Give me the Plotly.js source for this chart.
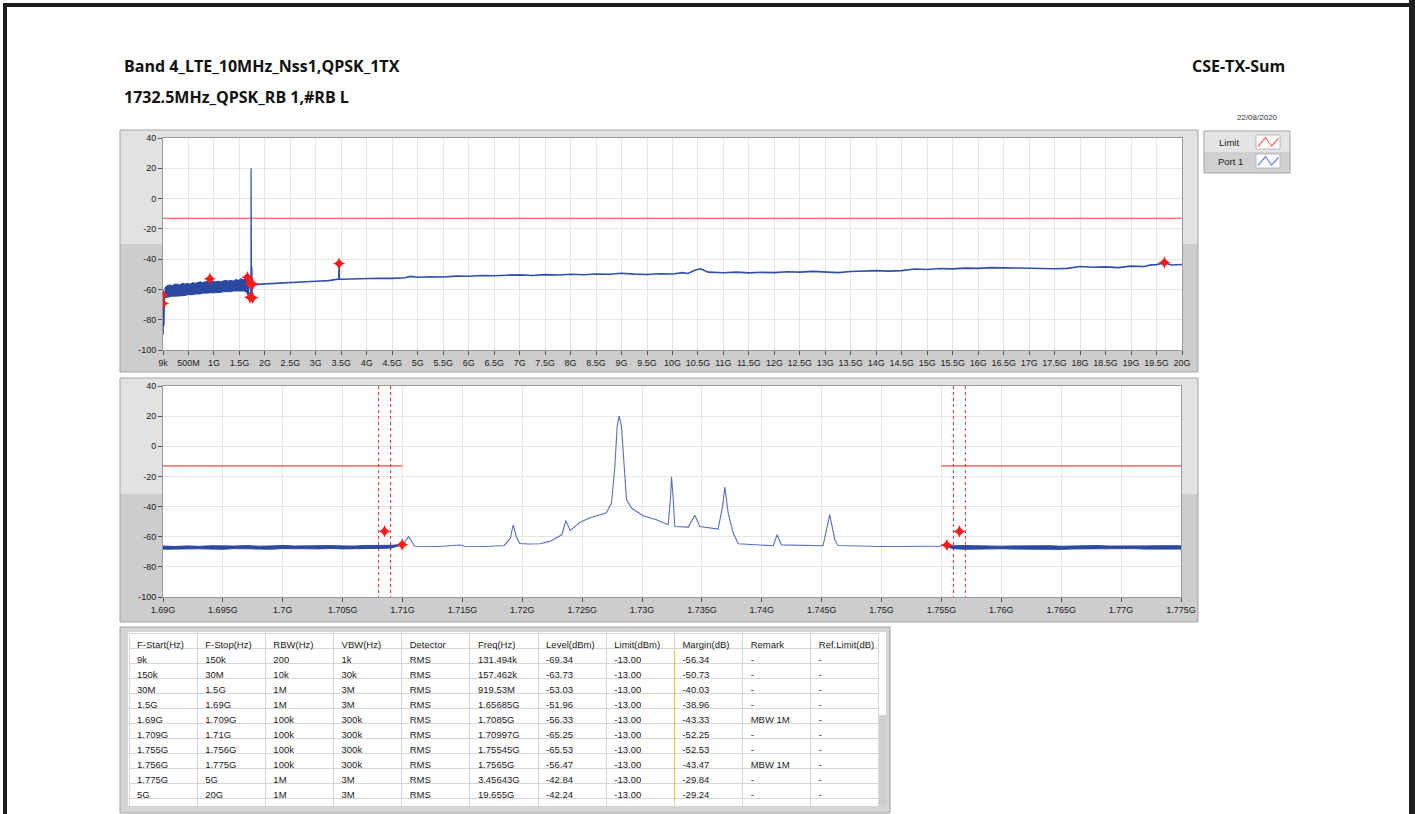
<!DOCTYPE html>
<html>
<head>
<meta charset="utf-8">
<script src="https://cdn.plot.ly/plotly-3.0.1.min.js"></script>
<style>html,body{margin:0;padding:0;background:#fff;}#chart{width:1415px;height:814px;}</style>
</head>
<body>
<div id="chart"></div>
<script>
// ---------------- DATA ----------------
// Result table
const tableHeader = ['F-Start(Hz)','F-Stop(Hz)','RBW(Hz)','VBW(Hz)','Detector','Freq(Hz)','Level(dBm)','Limit(dBm)','Margin(dB)','Remark','Ref.Limit(dB)'];
const fStart   = ['9k','150k','30M','1.5G','1.69G','1.709G','1.755G','1.756G','1.775G','5G'];
const fStop    = ['150k','30M','1.5G','1.69G','1.709G','1.71G','1.756G','1.775G','5G','20G'];
const rbw      = ['200','10k','1M','1M','100k','100k','100k','100k','1M','1M'];
const vbw      = ['1k','30k','3M','3M','300k','300k','300k','300k','3M','3M'];
const detector = ['RMS','RMS','RMS','RMS','RMS','RMS','RMS','RMS','RMS','RMS'];
const peakFreq = ['131.494k','157.462k','919.53M','1.65685G','1.7085G','1.70997G','1.75545G','1.7565G','3.45643G','19.655G'];
const levelDbm = [-69.34,-63.73,-53.03,-51.96,-56.33,-65.25,-65.53,-56.47,-42.84,-42.24];
const limitDbm = [-13,-13,-13,-13,-13,-13,-13,-13,-13,-13];
const marginDb = [-56.34,-50.73,-40.03,-38.96,-43.33,-52.25,-52.53,-43.47,-29.84,-29.24];
const remark   = ['-','-','-','-','MBW 1M','-','-','MBW 1M','-','-'];
const refLimit = ['-','-','-','-','-','-','-','-','-','-'];

// Tick labels
const topTickText = ['9k','500M','1G','1.5G','2G','2.5G','3G','3.5G','4G','4.5G','5G','5.5G','6G','6.5G','7G','7.5G','8G','8.5G','9G','9.5G','10G','10.5G','11G','11.5G','12G','12.5G','13G','13.5G','14G','14.5G','15G','15.5G','16G','16.5G','17G','17.5G','18G','18.5G','19G','19.5G','20G'];
const botTickText = ['1.69G','1.695G','1.7G','1.705G','1.71G','1.715G','1.72G','1.725G','1.73G','1.735G','1.74G','1.745G','1.75G','1.755G','1.76G','1.765G','1.77G','1.775G'];
const yTickVals = [40,20,0,-20,-40,-60,-80,-100];

// Limit line segments (GHz)
const limitLevel = -13;
const topLimitF = [0.000009, 20];
const botLimitF = [1.69, 1.71, null, 1.755, 1.775];
// MBW 1M measurement window edges (GHz)
const mbwEdges = [1.708, 1.709, 1.756, 1.757];

// Top sweep: 9k - 30M (GHz, dBm)
const lowF = [0.000009,0.002,0.004,0.006,0.008,0.010,0.012,0.014,0.016,0.018,0.020,0.022,0.025,0.030];
const lowV = [-90,-73,-88,-74,-89,-72,-86,-74,-84,-70,-78,-66,-70,-62];
// Top sweep: 30M - 1.69G noise band envelopes
const bandF  = [0.03,0.08,0.13,0.18,0.23,0.28,0.33,0.38,0.43,0.48,0.53,0.58,0.63,0.68,0.73,0.78,0.83,0.88,0.93,0.98,1.03,1.08,1.13,1.18,1.23,1.28,1.33,1.38,1.43,1.48,1.53,1.58,1.63,1.69];
const bandHi = [-59,-57.5,-57,-57.5,-56.5,-56.5,-57,-56,-56.5,-56,-56.5,-55.5,-56,-55.5,-55,-55.5,-55,-54.5,-55,-54.5,-55,-54.5,-55,-54.5,-54,-54.5,-54,-54.5,-53.5,-54,-53,-53.5,-52.5,-54];
const bandLo = [-65.5,-65,-65,-64.5,-64.5,-64.5,-64,-64,-64,-63.5,-63.5,-63.5,-63,-63,-63,-62.5,-62.5,-62.5,-62.5,-62,-62,-62,-62,-61.5,-61.5,-61.5,-61.5,-61,-61,-61,-61,-61,-61.5,-65];
// Top sweep: 1.775G - 20G
const highF = [1.775,1.8,2.0,2.25,2.5,2.75,3.0,3.25,3.4,3.45,3.456,3.46,3.5,3.75,4.0,4.25,4.5,4.75,4.85,5.0,5.25,5.5,5.75,6.0,6.25,6.5,6.75,7.0,7.25,7.5,7.75,8.0,8.25,8.5,8.75,9.0,9.25,9.5,9.75,10.0,10.2,10.3,10.45,10.55,10.7,11.0,11.25,11.5,11.75,12.0,12.25,12.5,12.75,13.0,13.25,13.5,13.75,14.0,14.25,14.5,14.75,15.0,15.25,15.5,15.75,16.0,16.25,16.5,16.75,17.0,17.25,17.5,17.75,18.0,18.25,18.5,18.75,19.0,19.25,19.4,19.5,19.655,19.8,20.0];
const highV = [-57,-56.8,-56.3,-56,-55.4,-55,-54.6,-54.2,-53.8,-53.2,-42.8,-53.2,-53.3,-53,-53.1,-52.6,-52.7,-52.3,-51.4,-52,-51.6,-51.8,-51.2,-51.3,-50.8,-51,-50.6,-50.4,-50.8,-50.2,-50.5,-50,-50.3,-49.8,-50,-49.3,-49.9,-50.1,-49.6,-49.8,-48.9,-49.5,-47.2,-46.4,-48.6,-49,-48.6,-49.1,-48.7,-48.9,-48.3,-48.6,-48.1,-48.5,-48.9,-48.2,-47.9,-47.6,-47.9,-47.6,-46.5,-46.8,-46.2,-46.4,-45.9,-46.1,-45.6,-45.8,-46.0,-46.3,-46.2,-46.3,-46.1,-44.9,-45.4,-45.1,-45.6,-44.6,-44.9,-43.8,-43.6,-42.6,-43.9,-43.5];

// Zoomed sweep 1.69G - 1.775G
const botLeftF  = [1.690,1.691,1.692,1.693,1.694,1.695,1.696,1.697,1.698,1.699,1.700,1.701,1.702,1.703,1.704,1.705,1.706,1.707,1.708,1.709,1.710];
const botLeftHi = [-66.2,-66.5,-66.1,-66.4,-66.0,-66.3,-66.2,-65.9,-66.3,-66.1,-65.8,-66.2,-66.0,-66.3,-65.9,-66.1,-66.2,-65.8,-66.0,-65.7,-65.3];
const botLeftLo = [-68.3,-68.1,-68.4,-68.0,-68.2,-68.3,-67.9,-68.2,-68.1,-68.3,-67.9,-68.2,-68.0,-68.1,-67.8,-68.1,-67.9,-67.7,-67.9,-67.6,-65.3];
const midF = [1.71,1.7103,1.7105,1.7107,1.711,1.713,1.7148,1.7152,1.717,1.7185,1.719,1.71924,1.7195,1.7198,1.7205,1.7215,1.7223,1.7233,1.72364,1.724,1.7248,1.7256,1.727,1.72745,1.72773,1.72792,1.72809,1.72828,1.72848,1.7287,1.72912,1.73009,1.7312,1.73218,1.73237,1.73246,1.7326,1.73274,1.73385,1.73441,1.73482,1.73635,1.73672,1.73691,1.73719,1.73761,1.73803,1.74095,1.74128,1.74164,1.74511,1.74567,1.74609,1.74637,1.74985,1.752,1.755];
const midV = [-66,-62,-60,-62,-66.3,-66.5,-65.5,-66.3,-66.5,-65.8,-61,-52.1,-60,-64.5,-64.8,-64.7,-63.1,-58.7,-49.2,-56,-50.5,-47.6,-44.3,-37.6,-13.3,13.3,20,13.3,-13.3,-35.4,-41,-46.1,-48.7,-52,-35,-20.3,-35,-53.2,-53.6,-45.8,-53.2,-54.9,-40,-27,-44.3,-57.6,-64.7,-66,-58.7,-65.4,-66,-45.4,-62,-65.8,-66.5,-66.4,-66.3];
const botRightF  = [1.755,1.756,1.757,1.758,1.759,1.760,1.761,1.762,1.763,1.764,1.765,1.766,1.767,1.768,1.769,1.770,1.771,1.772,1.773,1.774,1.775];
const botRightHi = [-65.6,-66.0,-65.9,-66.2,-66.0,-66.3,-66.1,-65.9,-66.2,-66.0,-66.3,-66.1,-66.2,-65.9,-66.2,-66.0,-66.3,-66.1,-66.0,-66.2,-66.0];
const botRightLo = [-65.6,-68.0,-68.3,-68.1,-68.4,-68.0,-68.2,-68.3,-68.0,-68.2,-68.4,-68.1,-68.0,-68.3,-68.1,-68.2,-67.9,-68.2,-68.3,-68.0,-68.2];

// ---------------- HELPERS ----------------
const W = 1415, H = 814;
const px = x => x / W;
const py = y => 1 - y / H;
function parseHz(s){ const mult = {k:1e3, M:1e6, G:1e9}; const u = s.slice(-1); return parseFloat(s) * (mult[u] || 1) / 1e9; }

const FONT = 'Liberation Sans, Arial, sans-serif';
const TITLEFONT = 'Open Sans, Liberation Sans, sans-serif';
const BLUE = '#3150a8';
const BAND = '#2c49a1';
const RED = '#ff4444';

const markerF = peakFreq.map(parseHz);
const botMarkIdx = markerF.map((f,i)=>i).filter(i => markerF[i] >= 1.69 && markerF[i] <= 1.775);

function mbwLines(){
  const x = [], y = [];
  mbwEdges.forEach(e => { x.push(e, e, null); y.push(40, -100, null); });
  return {x, y};
}
const mbw = mbwLines();

function bandPair(F, hi, lo, xa, ya, color){
  return [
    {x:F, y:hi, xaxis:xa, yaxis:ya, mode:'lines', line:{color:color, width:1}, hoverinfo:'skip'},
    {x:F, y:lo, xaxis:xa, yaxis:ya, mode:'lines', line:{color:color, width:1}, fill:'tonexty', fillcolor:color, hoverinfo:'skip'}
  ];
}

const traces = [];
// ---- top chart ----
traces.push({x:topLimitF, y:topLimitF.map(()=>limitLevel), xaxis:'x', yaxis:'y', mode:'lines', line:{color:RED, width:1.2}});
traces.push({x:lowF, y:lowV, xaxis:'x', yaxis:'y', mode:'lines', line:{color:BAND, width:1.5}});
traces.push(...bandPair(bandF, bandHi, bandLo, 'x', 'y', BAND));
traces.push(...bandPair(botLeftF, botLeftHi, botLeftLo, 'x', 'y', BAND));
traces.push({x:midF, y:midV, xaxis:'x', yaxis:'y', mode:'lines', line:{color:BLUE, width:1.2}});
traces.push(...bandPair(botRightF, botRightHi, botRightLo, 'x', 'y', BAND));
traces.push({x:highF, y:highV, xaxis:'x', yaxis:'y', mode:'lines', line:{color:BLUE, width:1.6}});
traces.push({x:markerF, y:levelDbm, xaxis:'x', yaxis:'y', mode:'markers', marker:{symbol:'star-diamond', size:9, color:'#ff1a1a', line:{width:0}}});

// ---- bottom chart ----
traces.push({x:botLimitF, y:botLimitF.map(v=> v===null ? null : limitLevel), xaxis:'x2', yaxis:'y2', mode:'lines', line:{color:RED, width:1.2}, connectgaps:false});
traces.push({x:mbw.x, y:mbw.y, xaxis:'x2', yaxis:'y2', mode:'lines', line:{color:'#ff3030', width:1, dash:'dot'}, connectgaps:false});
traces.push(...bandPair(botLeftF, botLeftHi, botLeftLo, 'x2', 'y2', BAND));
traces.push({x:midF, y:midV, xaxis:'x2', yaxis:'y2', mode:'lines', line:{color:'#5670bd', width:1.1}});
traces.push(...bandPair(botRightF, botRightHi, botRightLo, 'x2', 'y2', BAND));
traces.push({x:botMarkIdx.map(i=>markerF[i]), y:botMarkIdx.map(i=>levelDbm[i]), xaxis:'x2', yaxis:'y2', mode:'markers', marker:{symbol:'star-diamond', size:9, color:'#ff1a1a', line:{width:0}}});

// ---- table ----
const blank = '';
traces.push({
  type:'table',
  domain:{x:[px(129), px(879)], y:[py(806), py(633)]},
  columnwidth: tableHeader.map(()=>1),
  header:{values: tableHeader, align:'left', height:15,
          fill:{color:'#ffffff'}, line:{color:'#d6d6d6', width:1},
          font:{family:FONT, size:9.5, color:'#1a1a1a'}},
  cells:{values:[fStart.concat(blank), fStop.concat(blank), rbw.concat(blank), vbw.concat(blank), detector.concat(blank),
                 peakFreq.concat(blank), levelDbm.map(v=>v.toFixed(2)).concat(blank), limitDbm.map(v=>v.toFixed(2)).concat(blank),
                 marginDb.map(v=>v.toFixed(2)).concat(blank), remark.concat(blank), refLimit.concat(blank)],
         align:'left', height:15,
         fill:{color:'#ffffff'}, line:{color:'#d6d6d6', width:1},
         font:{family:FONT, size:9.5, color:'#1a1a1a'}}
});

// ---------------- LAYOUT ----------------
function rect(x0,y0,x1,y1,fill,line,layer){
  return {type:'rect', xref:'paper', yref:'paper', x0:px(x0), x1:px(x1), y0:py(y1), y1:py(y0),
          fillcolor: fill || 'rgba(0,0,0,0)', line:{color: line || 'rgba(0,0,0,0)', width: line ? 1 : 0}, layer: layer || 'below'};
}
function path(pts, color){
  const d = pts.map((p,i)=> (i? 'L':'M') + px(p[0]).toFixed(5) + ',' + py(p[1]).toFixed(5)).join(' ');
  return {type:'path', xref:'paper', yref:'paper', path:d, line:{color:color, width:1.2}, layer:'above'};
}

const LIGHT = '#e2e2e2', DARK = '#cdcdcd';
const shapes = [
  // page border
  rect(3,3,1415,7,'#1e1e1e'),
  rect(3,3,7,814,'#1e1e1e'),
  rect(1409,0,1415,814,'#1e1e1e'),
  // top panel frame
  rect(120,130,1198,244,LIGHT),
  rect(120,244,1198,372,DARK),
  rect(120,130,1198,372,null,'#a3a3a3'),
  rect(163,138,1182,350,'#ffffff'),
  // bottom panel frame
  rect(120,378,1198,494,LIGHT),
  rect(120,494,1198,622,DARK),
  rect(120,378,1198,622,null,'#a3a3a3'),
  rect(163,386,1181,597,'#ffffff'),
  // table frame
  rect(120,627,890,813,'#d4d4d4','#a3a3a3'),
  rect(128,632,886,806,'#ffffff'),
  rect(879,715,886,806,'#d0d0d0'),
  // legend box
  rect(1204,131,1290,152,'#e4e4e4'),
  rect(1204,152,1290,173,'#d0d0d0'),
  rect(1204,131,1290,173,null,'#a3a3a3'),
  rect(1256,135,1280,149,'#ffffff','#b8b8b8','above'),
  rect(1256,154,1280,168,'#ffffff','#b8b8b8','above'),
  path([[1258,146.5],[1265.5,137.5],[1271.5,146],[1278.5,138.5]], '#ff6a6a'),
  path([[1258,165.5],[1265.5,156.5],[1271.5,165],[1278.5,157.5]], '#7085d0')
];

const tickFont = {family:FONT, size:9, color:'#222'};
function xAxis(domain, texts, anchor){
  const vals = texts.map(parseHz);
  return {domain:domain, anchor:anchor, range:[vals[0], vals[vals.length-1]], tickvals:vals, ticktext:texts,
          tickangle:0, showgrid:true, gridcolor:'#e6e6e6', gridwidth:1, zeroline:false,
          ticks:'outside', ticklen:4, tickcolor:'#555', showline:true, linecolor:'#9a9a9a', mirror:true,
          tickfont:tickFont, fixedrange:true};
}
function yAxis(domain, anchor){
  return {domain:domain, anchor:anchor, range:[-100,40], tickvals:yTickVals, ticktext:yTickVals.map(String),
          showgrid:true, gridcolor:'#e6e6e6', gridwidth:1, zeroline:false,
          ticks:'outside', ticklen:4, tickcolor:'#555', showline:true, linecolor:'#9a9a9a', mirror:true,
          tickfont:tickFont, fixedrange:true};
}

const annotations = [
  {text:'<b>Band 4_LTE_10MHz_Nss1,QPSK_1TX</b>', x:px(122), y:py(66), xanchor:'left', yanchor:'middle', font:{family:TITLEFONT, size:16, color:'#111'}},
  {text:'<b>1732.5MHz_QPSK_RB 1,#RB L</b>', x:px(122), y:py(97), xanchor:'left', yanchor:'middle', font:{family:TITLEFONT, size:16, color:'#111'}},
  {text:'<b>CSE-TX-Sum</b>', x:px(1287), y:py(66), xanchor:'right', yanchor:'middle', font:{family:TITLEFONT, size:16, color:'#111'}},
  {text:'22/08/2020', x:px(1280), y:py(117), xanchor:'right', yanchor:'middle', font:{family:FONT, size:8, color:'#333'}},
  {text:'Limit', x:px(1217), y:py(142), xanchor:'left', yanchor:'middle', font:{family:FONT, size:9.5, color:'#222'}},
  {text:'Port 1', x:px(1216), y:py(161), xanchor:'left', yanchor:'middle', font:{family:FONT, size:9.5, color:'#222'}},
  {text:' ', x:px(674.5), y:py(726), xanchor:'center', yanchor:'middle', width:1, height:150, bgcolor:'#f0c030', borderpad:0, borderwidth:0, font:{size:1}}
].map(a => Object.assign({xref:'paper', yref:'paper', showarrow:false}, a));

const layout = {
  width:W, height:H, autosize:false,
  margin:{l:0, r:0, t:0, b:0, pad:0},
  paper_bgcolor:'#ffffff', plot_bgcolor:'#ffffff',
  showlegend:false,
  xaxis: xAxis([px(163), px(1182)], topTickText, 'y'),
  yaxis: yAxis([py(350), py(138)], 'x'),
  xaxis2: xAxis([px(163), px(1181)], botTickText, 'y2'),
  yaxis2: yAxis([py(597), py(386)], 'x2'),
  shapes: shapes,
  annotations: annotations,
  hovermode:false
};

Plotly.newPlot('chart', traces, layout, {displayModeBar:false, staticPlot:true});
</script>
</body>
</html>
